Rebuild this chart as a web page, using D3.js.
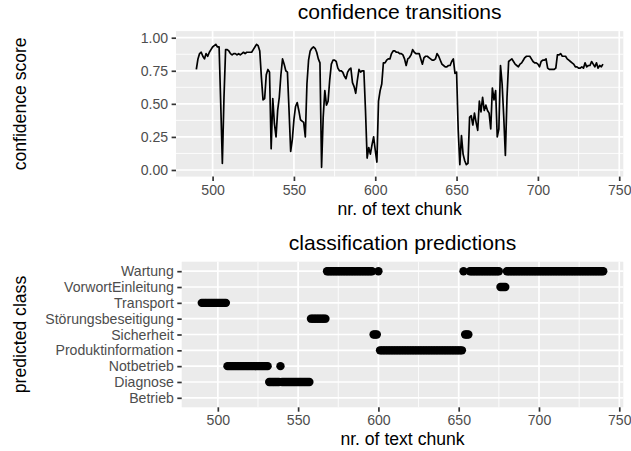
<!DOCTYPE html>
<html><head><meta charset="utf-8">
<script src="https://cdn.jsdelivr.net/npm/d3@7"></script>
<style>
body{margin:0;background:#fff}
svg{display:block}
text{font-family:"Liberation Sans",Arial,Helvetica,sans-serif}
</style>
</head><body>
<svg id="c" width="631" height="451"></svg>
<script>
// ---------------- data ----------------
const firstChunk = 490;
const lastChunk = 740;
// confidence score per chunk (490 .. 740)
const confidence = [
  0.76,0.84,0.88,0.89,0.86,0.84,0.88,0.86,0.89,0.91, // 490
  0.93,0.94,0.95,0.93,0.93,0.50,0.05,0.55,0.91,0.91, // 500
  0.90,0.88,0.87,0.88,0.88,0.87,0.88,0.87,0.88,0.89, // 510
  0.88,0.89,0.89,0.89,0.89,0.91,0.93,0.95,0.94,0.90, // 520
  0.70,0.53,0.54,0.72,0.76,0.74,0.16,0.54,0.35,0.25, // 530
  0.45,0.55,0.72,0.84,0.80,0.75,0.74,0.45,0.14,0.23, // 540
  0.38,0.48,0.51,0.45,0.38,0.37,0.36,0.25,0.65,0.83, // 550
  0.90,0.92,0.93,0.92,0.89,0.84,0.81,0.02,0.40,0.60, // 560
  0.49,0.52,0.68,0.80,0.83,0.83,0.82,0.77,0.75,0.75, // 570
  0.74,0.71,0.69,0.74,0.76,0.77,0.66,0.63,0.58,0.68, // 580
  0.76,0.74,0.75,0.75,0.45,0.09,0.17,0.12,0.19,0.25, // 590
  0.15,0.06,0.52,0.60,0.65,0.81,0.81,0.83,0.84,0.84, // 600
  0.88,0.90,0.90,0.89,0.89,0.88,0.88,0.87,0.84,0.79, // 610
  0.84,0.85,0.87,0.91,0.89,0.88,0.88,0.88,0.84,0.80, // 620
  0.85,0.86,0.86,0.85,0.84,0.83,0.83,0.84,0.88,0.86, // 630
  0.83,0.80,0.79,0.78,0.78,0.79,0.79,0.82,0.84,0.73, // 640
  0.74,0.30,0.04,0.26,0.12,0.07,0.04,0.05,0.40,0.41, // 650
  0.34,0.43,0.36,0.30,0.52,0.44,0.55,0.45,0.49,0.45, // 660
  0.43,0.31,0.62,0.53,0.60,0.25,0.31,0.79,0.65,0.40, // 670
  0.11,0.55,0.82,0.83,0.84,0.82,0.80,0.79,0.78,0.80, // 680
  0.81,0.83,0.85,0.86,0.86,0.86,0.84,0.82,0.81,0.81, // 690
  0.80,0.78,0.82,0.83,0.83,0.84,0.77,0.76,0.76,0.76, // 700
  0.76,0.77,0.87,0.87,0.88,0.86,0.86,0.86,0.84,0.83, // 710
  0.82,0.81,0.80,0.78,0.78,0.77,0.77,0.78,0.77,0.81, // 720
  0.78,0.79,0.79,0.82,0.80,0.78,0.81,0.77,0.79,0.78, // 730
  0.80                                               // 740
];
// class names (bottom to top on the axis)
const classNames = ["Betrieb","Diagnose","Notbetrieb","Produktinformation","Sicherheit",
                    "Störungsbeseitigung","Transport","VorwortEinleitung","Wartung"];
// predicted class index per chunk (490 .. 740)
const predictedClass = [
  6,6,6,6,6,6,6,6,6,6, // 490
  6,6,6,6,6,6,2,2,2,2, // 500
  2,2,2,2,2,2,2,2,2,2, // 510
  2,2,2,2,2,2,2,2,2,2, // 520
  2,2,1,1,1,1,1,1,1,2, // 530
  1,1,1,1,1,1,1,1,1,1, // 540
  1,1,1,1,1,1,1,1,5,5, // 550
  5,5,5,5,5,5,5,5,8,8, // 560
  8,8,8,8,8,8,8,8,8,8, // 570
  8,8,8,8,8,8,8,8,8,8, // 580
  8,8,8,8,8,8,8,4,4,4, // 590
  8,3,3,3,3,3,3,3,3,3, // 600
  3,3,3,3,3,3,3,3,3,3, // 610
  3,3,3,3,3,3,3,3,3,3, // 620
  3,3,3,3,3,3,3,3,3,3, // 630
  3,3,3,3,3,3,3,3,3,3, // 640
  3,3,3,8,4,4,4,8,8,8, // 650
  8,8,8,8,8,8,8,8,8,8, // 660
  8,8,8,8,8,8,7,7,7,7, // 670
  8,8,8,8,8,8,8,8,8,8, // 680
  8,8,8,8,8,8,8,8,8,8, // 690
  8,8,8,8,8,8,8,8,8,8, // 700
  8,8,8,8,8,8,8,8,8,8, // 710
  8,8,8,8,8,8,8,8,8,8, // 720
  8,8,8,8,8,8,8,8,8,8, // 730
  8                    // 740
];
const xTickValues = [500,550,600,650,700,750];
const xMinorValues = [525,575,625,675,725];
const yTickValues = [0,0.25,0.5,0.75,1];
const yMinorValues = [0.125,0.375,0.625,0.875];
const titles = ["confidence transitions","classification predictions"];
const xTitle = "nr. of text chunk";
const yTitles = ["confidence score","predicted class"];

// ---------------- drawing ----------------
const chunks = d3.range(firstChunk, lastChunk + 1);
const svg = d3.select("#c");
const PANEL_BG = "#EBEBEB", TICK_COL = "#333333", LABEL_COL = "#4D4D4D";
const TICK_LEN = 4.4, TICK_PAD = 3.5, MAJ_W = 1.7, MIN_W = 0.85;
const TICK_FS = 14.1, AXT_FS = 17.6, TITLE_FS = 21.1;

function xDomain() {
  const span = lastChunk - firstChunk;
  return [firstChunk - 0.05 * span, lastChunk + 0.05 * span];
}

function styleAxis(g) {
  g.select(".domain").remove();
  g.selectAll(".tick line").attr("stroke", TICK_COL).attr("stroke-width", MAJ_W);
  g.selectAll(".tick text").attr("fill", LABEL_COL)
    .style("font-size", TICK_FS + "px")
    .style("font-family", '"Liberation Sans",Arial,Helvetica,sans-serif');
  g.attr("font-family", null).attr("font-size", null);
}

function panelFrame(p) {
  svg.append("rect").attr("x", p.l).attr("y", p.t)
    .attr("width", p.r - p.l).attr("height", p.b - p.t).attr("fill", PANEL_BG);
}

// ---- top panel ----
const P1 = {l: 176, r: 623.3, t: 31.1, b: 176.6};
const x1 = d3.scaleLinear().domain(xDomain()).range([P1.l, P1.r]);
const y1 = d3.scaleLinear().domain([-0.05, 1.05]).range([P1.b, P1.t]);
panelFrame(P1);
const g1 = svg.append("g");
g1.selectAll(".ymin").data(yMinorValues).join("line")
  .attr("x1", P1.l).attr("x2", P1.r).attr("y1", d => y1(d)).attr("y2", d => y1(d))
  .attr("stroke", "#fff").attr("stroke-width", MIN_W);
g1.selectAll(".xmin").data(xMinorValues).join("line")
  .attr("y1", P1.t).attr("y2", P1.b).attr("x1", d => x1(d)).attr("x2", d => x1(d))
  .attr("stroke", "#fff").attr("stroke-width", MIN_W);
g1.selectAll(".ymaj").data(yTickValues).join("line")
  .attr("x1", P1.l).attr("x2", P1.r).attr("y1", d => y1(d)).attr("y2", d => y1(d))
  .attr("stroke", "#fff").attr("stroke-width", MAJ_W);
g1.selectAll(".xmaj").data(xTickValues).join("line")
  .attr("y1", P1.t).attr("y2", P1.b).attr("x1", d => x1(d)).attr("x2", d => x1(d))
  .attr("stroke", "#fff").attr("stroke-width", MAJ_W);

const line = d3.line().x((d, i) => x1(chunks[i])).y(d => y1(d));
svg.append("path").datum(confidence).attr("d", line)
  .attr("fill", "none").attr("stroke", "#000").attr("stroke-width", MAJ_W)
  .attr("stroke-linejoin", "round");

svg.append("g").attr("transform", `translate(0,${P1.b})`)
  .call(d3.axisBottom(x1).tickValues(xTickValues).tickSize(TICK_LEN).tickPadding(TICK_PAD).tickFormat(d3.format("d")))
  .call(styleAxis);
svg.append("g").attr("transform", `translate(${P1.l},0)`)
  .call(d3.axisLeft(y1).tickValues(yTickValues).tickSize(TICK_LEN).tickPadding(TICK_PAD).tickFormat(d3.format(".2f")))
  .call(styleAxis);

// ---- bottom panel ----
const P2 = {l: 181.7, r: 623.3, t: 261.7, b: 407.3};
const x2 = d3.scaleLinear().domain(xDomain()).range([P2.l, P2.r]);
const y2 = d3.scalePoint().domain(classNames).range([P2.b, P2.t]).padding(0.6);
panelFrame(P2);
const g2 = svg.append("g");
g2.selectAll(".xmin").data(xMinorValues).join("line")
  .attr("y1", P2.t).attr("y2", P2.b).attr("x1", d => x2(d)).attr("x2", d => x2(d))
  .attr("stroke", "#fff").attr("stroke-width", MIN_W);
g2.selectAll(".ymaj").data(classNames).join("line")
  .attr("x1", P2.l).attr("x2", P2.r).attr("y1", d => y2(d)).attr("y2", d => y2(d))
  .attr("stroke", "#fff").attr("stroke-width", MAJ_W);
g2.selectAll(".xmaj").data(xTickValues).join("line")
  .attr("y1", P2.t).attr("y2", P2.b).attr("x1", d => x2(d)).attr("x2", d => x2(d))
  .attr("stroke", "#fff").attr("stroke-width", MAJ_W);

svg.append("g").selectAll("circle").data(predictedClass).join("circle")
  .attr("cx", (d, i) => x2(chunks[i]))
  .attr("cy", d => y2(classNames[d]))
  .attr("r", 4.2).attr("fill", "#000");

svg.append("g").attr("transform", `translate(0,${P2.b})`)
  .call(d3.axisBottom(x2).tickValues(xTickValues).tickSize(TICK_LEN).tickPadding(TICK_PAD).tickFormat(d3.format("d")))
  .call(styleAxis);
svg.append("g").attr("transform", `translate(${P2.l},0)`)
  .call(d3.axisLeft(y2).tickSize(TICK_LEN).tickPadding(TICK_PAD))
  .call(styleAxis);

// ---- titles ----
[[P1, 0], [P2, 1]].forEach(([p, i]) => {
  svg.append("text").attr("x", (p.l + p.r) / 2).attr("y", p.t - 11.7)
    .attr("text-anchor", "middle").style("font-size", TITLE_FS + "px").attr("fill", "#000")
    .text(titles[i]);
  svg.append("text").attr("x", (p.l + p.r) / 2).attr("y", p.b + 38)
    .attr("text-anchor", "middle").style("font-size", AXT_FS + "px").attr("fill", "#000")
    .text(xTitle);
  svg.append("text")
    .attr("transform", `translate(25.5,${(p.t + p.b) / 2}) rotate(-90)`)
    .attr("text-anchor", "middle").style("font-size", AXT_FS + "px").attr("fill", "#000")
    .text(yTitles[i]);
});
</script>
</body></html>
